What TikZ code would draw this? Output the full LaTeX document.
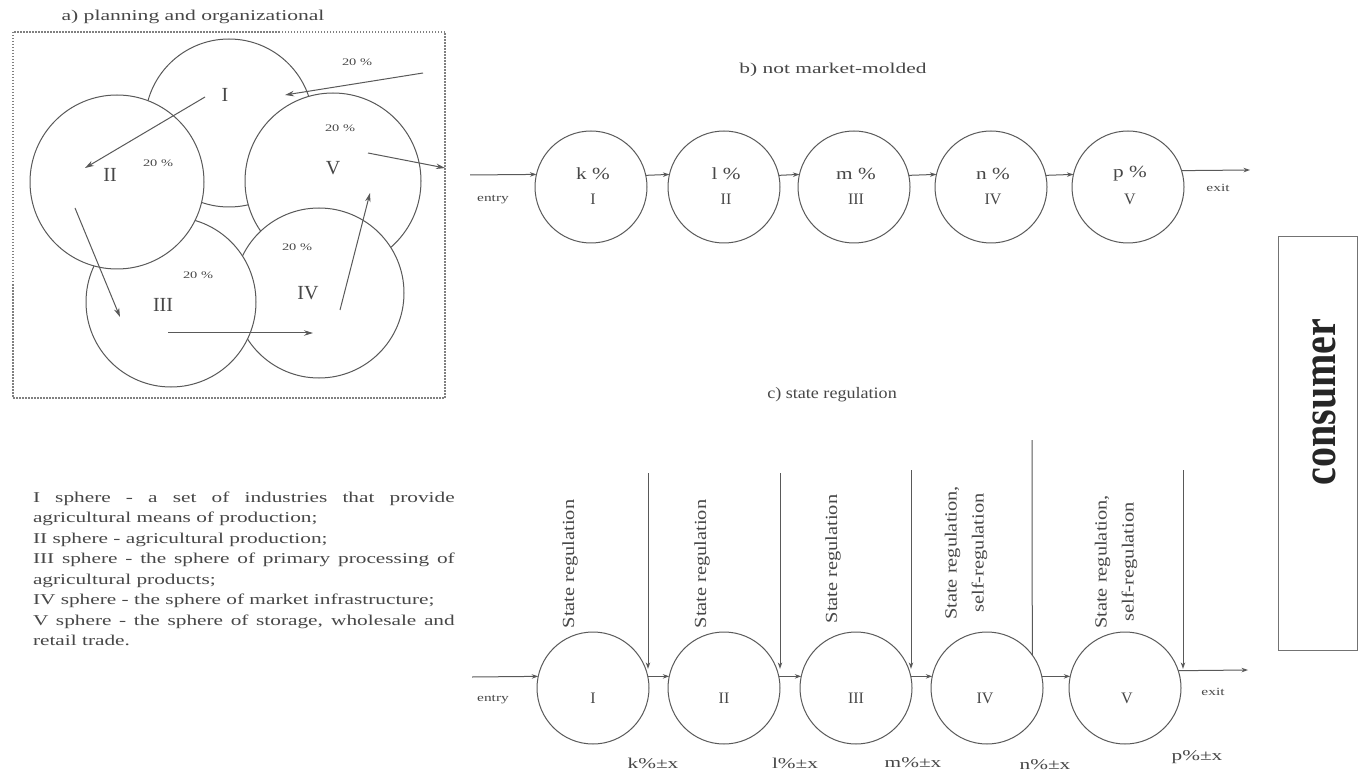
\documentclass[tikz,border=0pt]{standalone}
\usepackage{fontspec}
\setmainfont{Liberation Serif}
\usepackage{graphicx}
\usetikzlibrary{arrows.meta}
\newcommand{\sttext}[2]{\scalebox{#1}[1]{#2}}
\tikzset{
  txt/.style={text=black!72, inner sep=0pt, outer sep=0pt},
  ln/.style={draw=black!65, line width=1pt},
  bigarrow/.style={ln, -{Stealth[length=9pt,width=5.5pt]}},
  smallarrow/.style={ln, -{Stealth[length=6.5pt,width=4.5pt]}},
  ringA/.style={circle, draw=black!65, line width=1pt, fill=white, inner sep=0pt, outer sep=0pt},
  ringB/.style={circle, draw=black!65, line width=1pt, minimum size=112pt, inner sep=0pt, outer sep=0pt},
  pct/.style={txt, font=\fontsize{10}{12}\selectfont},
  roma/.style={txt, font=\fontsize{20}{24}\selectfont},
  romb/.style={txt, font=\fontsize{16}{19}\selectfont},
  small/.style={txt, font=\fontsize{11}{13}\selectfont},
  botlab/.style={txt, font=\fontsize{15}{18}\selectfont},
  rotlab/.style={txt, rotate=90, align=center, font=\fontsize{17}{27}\selectfont},
}
\begin{document}
\begin{tikzpicture}[x=1pt,y=-1pt]
\useasboundingbox (0,0) rectangle (1359,775);
\fill[white] (0,0) rectangle (1359,775);

% ---------------- a) ----------------
\node[txt, font=\fontsize{15}{18}\selectfont] (titleA) at (193,17) {\sttext{1.44}{a) planning and organizational}};
\draw[draw=black!50, dash pattern=on 1.5pt off 1.5pt, line width=1.1pt] (13,32) rectangle (445,398);

\node[ringA, minimum size=168pt] (aI) at (229,123) {};
\node[ringA, minimum size=176pt] (aV) at (333,181) {};
\node[ringA, minimum size=170pt] (aIV) at (319,293) {};
\node[ringA, minimum size=170pt] (aIII) at (171,302) {};
\node[ringA, minimum size=174pt] (aII) at (117,182) {};

\node[roma] (laI) at (225,95) {I};
\node[roma] (laII) at (110,175) {II};
\node[roma] (laV) at (333,168) {V};
\node[roma] (laIII) at (163,305) {III};
\node[roma] (laIV) at (308,293) {IV};

\node[pct] (p1) at (357,62) {\sttext{1.44}{20 \%}};
\node[pct] (p2) at (340,128) {\sttext{1.44}{20 \%}};
\node[pct] (p3) at (158,163) {\sttext{1.44}{20 \%}};
\node[pct] (p4) at (198,275) {\sttext{1.44}{20 \%}};
\node[pct] (p5) at (297,247) {\sttext{1.44}{20 \%}};

\coordinate (a1s) at (423,73);  \coordinate (a1e) at (285,95);
\coordinate (a2s) at (205,97);  \coordinate (a2e) at (85,168);
\coordinate (a3s) at (75,208);  \coordinate (a3e) at (120,317);
\coordinate (a4s) at (168,333); \coordinate (a4e) at (313,333);
\coordinate (a5s) at (340,310); \coordinate (a5e) at (370,193);
\coordinate (a6s) at (368,153); \coordinate (a6e) at (445,168);
\draw[bigarrow] (a1s) -- (a1e);
\draw[bigarrow] (a2s) -- (a2e);
\draw[bigarrow] (a3s) -- (a3e);
\draw[bigarrow] (a4s) -- (a4e);
\draw[bigarrow] (a5s) -- (a5e);
\draw[bigarrow] (a6s) -- (a6e);

% legend
\node[txt, anchor=base west] (legend) at (33,502) {\sttext{1.42}{\parbox[t]{297pt}{\fontsize{15}{20.5}\selectfont\tolerance=10000\hbadness=10000\hyphenpenalty=10000\exhyphenpenalty=10000
I sphere - a set of industries that provide\linebreak
agricultural means of production;\\
II sphere - agricultural production;\\
III sphere - the sphere of primary processing of\linebreak
agricultural products;\\
IV sphere - the sphere of market infrastructure;\\
V sphere - the sphere of storage, wholesale and\linebreak
retail trade.}}};

% ---------------- b) ----------------
\node[txt, font=\fontsize{15}{18}\selectfont] (titleB) at (833,70) {\sttext{1.43}{b) not market-molded}};
\node[ringB] (b1) at (591,187) {};
\node[ringB] (b2) at (724,187) {};
\node[ringB] (b3) at (854,187) {};
\node[ringB] (b4) at (991,187) {};
\node[ringB] (b5) at (1128,187) {};

\node[txt, font=\fontsize{17}{20}\selectfont] (b1p) at (593,174) {\sttext{1.25}{k \%}};
\node[txt, font=\fontsize{17}{20}\selectfont] (b2p) at (726,174) {\sttext{1.25}{l \%}};
\node[txt, font=\fontsize{17}{20}\selectfont] (b3p) at (856,174) {\sttext{1.25}{m \%}};
\node[txt, font=\fontsize{17}{20}\selectfont] (b4p) at (993,174) {\sttext{1.25}{n \%}};
\node[txt, font=\fontsize{17}{20}\selectfont] (b5p) at (1130,174) {\sttext{1.25}{p \%}};
\node[romb] (b1n) at (593,199) {I};
\node[romb] (b2n) at (726,199) {II};
\node[romb] (b3n) at (856,199) {III};
\node[romb] (b4n) at (993,199) {IV};
\node[romb] (b5n) at (1130,199) {V};

\coordinate (bin) at (470,175);
\coordinate (bout) at (1250,170);
\draw[smallarrow] (bin) -- (b1.167.6);
\draw[smallarrow] (b1.12.4) -- (b2.167.6);
\draw[smallarrow] (b2.12.4) -- (b3.167.6);
\draw[smallarrow] (b3.12.4) -- (b4.167.6);
\draw[smallarrow] (b4.12.4) -- (b5.167.6);
\draw[smallarrow] (b5.17) -- (bout);
\node[small] (bentry) at (493,200) {\sttext{1.4}{entry}};
\node[small] (bexit) at (1218,188) {\sttext{1.4}{exit}};

% ---------------- c) ----------------
\node[txt, font=\fontsize{16}{19}\selectfont] (titleC) at (832,395) {\sttext{1.13}{c) state regulation}};
\node[ringB] (c1) at (593,688) {};
\node[ringB] (c2) at (724,688) {};
\node[ringB] (c3) at (856,688) {};
\node[ringB] (c4) at (987,688) {};
\node[ringB] (c5) at (1125,688) {};
\node[romb] (c1n) at (593,698) {I};
\node[romb] (c2n) at (724,698) {II};
\node[romb] (c3n) at (856,698) {III};
\node[romb] (c4n) at (985,698) {IV};
\node[romb] (c5n) at (1127,698) {V};

\coordinate (v1) at (648,473);
\coordinate (v2) at (780,473);
\coordinate (v3) at (911,470);
\coordinate (v4) at (1032,440);
\coordinate (v5) at (1183,470);
\draw[smallarrow] (v1) -- (v1 |- c1.20);
\draw[smallarrow] (v2) -- (v2 |- c2.20);
\draw[smallarrow] (v3) -- (v3 |- c3.20);
\draw[ln] (v4) -- (c4.36);
\draw[smallarrow] (v5) -- (v5 |- c5.20);

\coordinate (cin) at (472,677);
\coordinate (cout) at (1248,670);
\draw[smallarrow] (cin) -- (c1.168);
\draw[smallarrow] (c1.12) -- (c2.168);
\draw[smallarrow] (c2.12) -- (c3.168);
\draw[smallarrow] (c3.12) -- (c4.168);
\draw[smallarrow] (c4.12) -- (c5.168);
\draw[smallarrow] (c5.18) -- (cout);
\node[small] (centry) at (493,700) {\sttext{1.4}{entry}};
\node[small] (cexit) at (1213,692) {\sttext{1.4}{exit}};

\node[botlab] (k1) at (653,763) {\sttext{1.42}{k\%±x}};
\node[botlab] (k2) at (795,763) {\sttext{1.42}{l\%±x}};
\node[botlab] (k3) at (913,763) {\sttext{1.42}{m\%±x}};
\node[botlab] (k4) at (1045,765) {\sttext{1.42}{n\%±x}};
\node[botlab] (k5) at (1197,757) {\sttext{1.42}{p\%±x}};

\node[rotlab] (r1) at (570,564) {\sttext{1.2}{State regulation}};
\node[rotlab] (r2) at (702,564) {\sttext{1.2}{State regulation}};
\node[rotlab] (r3) at (833,559) {\sttext{1.2}{State regulation}};
\node[rotlab] (r4) at (966,553) {\sttext{1.2}{State regulation,}\\\sttext{1.2}{self-regulation}};
\node[rotlab] (r5) at (1116,562) {\sttext{1.2}{State regulation,}\\\sttext{1.2}{self-regulation}};

% consumer
\node[draw=black!55, line width=1pt, minimum width=79pt, minimum height=413pt, inner sep=0pt, outer sep=0pt] (cons) at (1317.5,443.5) {};
\node[text=black!85, inner sep=0pt, rotate=90, font=\fontsize{40}{48}\selectfont\bfseries] (consT) at (1324,402) {\scalebox{1}[1.2]{consumer}};
\end{tikzpicture}
\end{document}
